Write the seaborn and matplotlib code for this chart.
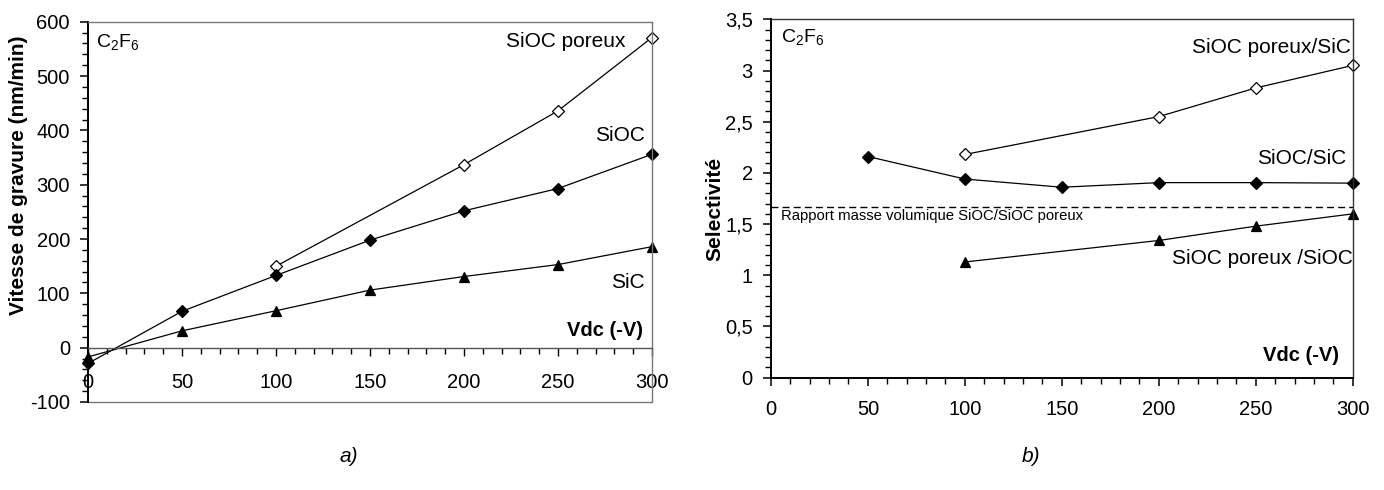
import matplotlib
matplotlib.use("Agg")
import matplotlib.pyplot as plt
import seaborn as sns
from matplotlib.ticker import MultipleLocator, FuncFormatter

# ---------------- data ----------------
# (a) etch rate vs Vdc
x_sioc_poreux = [100, 200, 250, 300]
y_sioc_poreux = [150, 337, 436, 571]
x_sioc = [0, 50, 100, 150, 200, 250, 300]
y_sioc = [-29, 67, 133, 198, 252, 293, 356]
x_sic = [0, 50, 100, 150, 200, 250, 300]
y_sic = [-17, 31, 68, 106, 131, 153, 186]

# (b) selectivity vs Vdc
x_por_sic = [100, 200, 250, 300]
y_por_sic = [2.18, 2.55, 2.83, 3.05]
x_sioc_sic = [50, 100, 150, 200, 250, 300]
y_sioc_sic = [2.16, 1.94, 1.86, 1.905, 1.905, 1.90]
x_por_sioc = [100, 200, 250, 300]
y_por_sioc = [1.13, 1.34, 1.48, 1.60]
density_ratio = 1.665

left_yticks = [-100, 0, 100, 200, 300, 400, 500, 600]
right_yticks = [0, 0.5, 1, 1.5, 2, 2.5, 3, 3.5]
xticks = [0, 50, 100, 150, 200, 250, 300]

# ---------------- style ----------------
sns.set_theme(style="ticks")
plt.rcParams["font.family"] = ["Liberation Sans", "DejaVu Sans"]
plt.rcParams["mathtext.fontset"] = "custom"
plt.rcParams["mathtext.rm"] = "Liberation Sans"
plt.rcParams["mathtext.it"] = "Liberation Sans:italic"
plt.rcParams["mathtext.bf"] = "Liberation Sans:bold"
plt.rcParams["axes.unicode_minus"] = False
plt.rcParams["text.color"] = "black"
plt.rcParams["axes.labelcolor"] = "black"
plt.rcParams["xtick.color"] = "black"
plt.rcParams["ytick.color"] = "black"

fig = plt.figure(figsize=(13.84, 4.90), dpi=100)
axL = fig.add_axes([0.0636, 0.1796, 0.4075, 0.776])
axR = fig.add_axes([0.557, 0.2292, 0.4205, 0.7314])

lw = 0.9
ms_d = 6.5
ms_t = 7.5
tick_fs = 14.5
lab_fs = 15

def series(ax, x, y, marker, filled, ms):
    sns.lineplot(x=x, y=y, ax=ax, color="black", linewidth=lw, marker=marker,
                 markersize=ms, markerfacecolor="black" if filled else "white",
                 markeredgecolor="black", markeredgewidth=0.9, clip_on=False,
                 estimator=None, sort=False, legend=False)

# ---------- left panel ----------
series(axL, x_sioc_poreux, y_sioc_poreux, "D", False, ms_d)
series(axL, x_sioc, y_sioc, "D", True, ms_d)
series(axL, x_sic, y_sic, "^", True, ms_t)

axL.set_xlim(0, 300)
axL.set_ylim(-100, 600)
axL.set_yticks(left_yticks)
axL.set_xticks(xticks)
axL.xaxis.set_minor_locator(MultipleLocator(10))
axL.yaxis.set_minor_locator(MultipleLocator(20))
axL.spines["bottom"].set_position(("data", 0))
axL.spines["bottom"].set_color("#555555")
axL.spines["bottom"].set_linewidth(1.0)
for s in ["top", "right"]:
    axL.spines[s].set_visible(True)
    axL.spines[s].set_color("#777777")
    axL.spines[s].set_linewidth(1.0)
axL.spines["left"].set_color("black")
axL.spines["left"].set_linewidth(1.4)
# bottom frame line of the plot area
axL.plot([0, 1], [0, 0], transform=axL.transAxes, color="#777777", lw=1.0, clip_on=False)
axL.tick_params(axis="y", which="major", direction="out", length=6, width=1.1,
                labelsize=tick_fs, pad=7, colors="black")
axL.tick_params(axis="y", which="minor", direction="out", length=4, width=1.0)
axL.tick_params(axis="x", which="major", direction="out", length=6, width=1.0,
                labelsize=tick_fs, pad=12, colors="black")
axL.tick_params(axis="x", which="minor", direction="out", length=4, width=1.0)
axL.set_xlabel("")
axL.set_ylabel("Vitesse de gravure (nm/min)", fontsize=lab_fs, fontweight="bold")
axL.yaxis.set_label_coords(-0.107, 0.597)

axL.text(4.5, 563, r"C$_\mathregular{2}$F$_\mathregular{6}$", fontsize=14, ha="left", va="center")
axL.text(286, 563, "SiOC poreux", fontsize=lab_fs, ha="right", va="center")
axL.text(296, 391, "SiOC", fontsize=lab_fs, ha="right", va="center")
axL.text(296, 120, "SiC", fontsize=lab_fs, ha="right", va="center")
axL.text(295, 32, "Vdc (-V)", fontsize=14.5, fontweight="bold", ha="right", va="center")

# ---------- right panel ----------
axR.axhline(density_ratio, color="black", lw=1.0, ls=(0, (5, 3)))
series(axR, x_por_sic, y_por_sic, "D", False, ms_d)
series(axR, x_sioc_sic, y_sioc_sic, "D", True, ms_d)
series(axR, x_por_sioc, y_por_sioc, "^", True, ms_t)

axR.set_xlim(0, 300)
axR.set_ylim(0, 3.5)
axR.set_xticks(xticks)
axR.set_yticks(right_yticks)
axR.xaxis.set_minor_locator(MultipleLocator(10))
axR.yaxis.set_minor_locator(MultipleLocator(0.1))
axR.yaxis.set_major_formatter(FuncFormatter(lambda v, p: f"{v:g}".replace(".", ",")))
for s in ["top", "right"]:
    axR.spines[s].set_visible(True)
    axR.spines[s].set_color("#333333")
    axR.spines[s].set_linewidth(1.0)
for s in ["left", "bottom"]:
    axR.spines[s].set_color("black")
    axR.spines[s].set_linewidth(1.4)
axR.tick_params(axis="y", which="major", direction="out", length=6, width=1.1,
                labelsize=tick_fs, pad=7, colors="black")
axR.tick_params(axis="y", which="minor", direction="out", length=4, width=1.0)
axR.tick_params(axis="x", which="major", direction="out", length=6, width=1.1,
                labelsize=tick_fs, pad=10, colors="black")
axR.tick_params(axis="x", which="minor", direction="out", length=4, width=1.0)
axR.set_xlabel("")
axR.set_ylabel("Selectivité", fontsize=lab_fs, fontweight="bold")
axR.yaxis.set_label_coords(-0.079, 0.47)

axR.text(5.2, 3.33, r"C$_\mathregular{2}$F$_\mathregular{6}$", fontsize=14, ha="left", va="center")
axR.text(217, 3.22, "SiOC poreux/SiC", fontsize=lab_fs, ha="left", va="center")
axR.text(250.5, 2.14, "SiOC/SiC", fontsize=lab_fs, ha="left", va="center")
axR.text(207, 1.16, "SiOC poreux /SiOC", fontsize=lab_fs, ha="left", va="center")
axR.text(5.2, 1.576, "Rapport masse volumique SiOC/SiOC poreux", fontsize=10.7, ha="left", va="center")
axR.text(293, 0.215, "Vdc (-V)", fontsize=14.5, fontweight="bold", ha="right", va="center")

fig.text(349 / 1384, 1 - 456 / 490, "a)", fontsize=15, style="italic", ha="center", va="center")
fig.text(1031 / 1384, 1 - 456 / 490, "b)", fontsize=15, style="italic", ha="center", va="center")

fig.savefig("out.png", dpi=100)
